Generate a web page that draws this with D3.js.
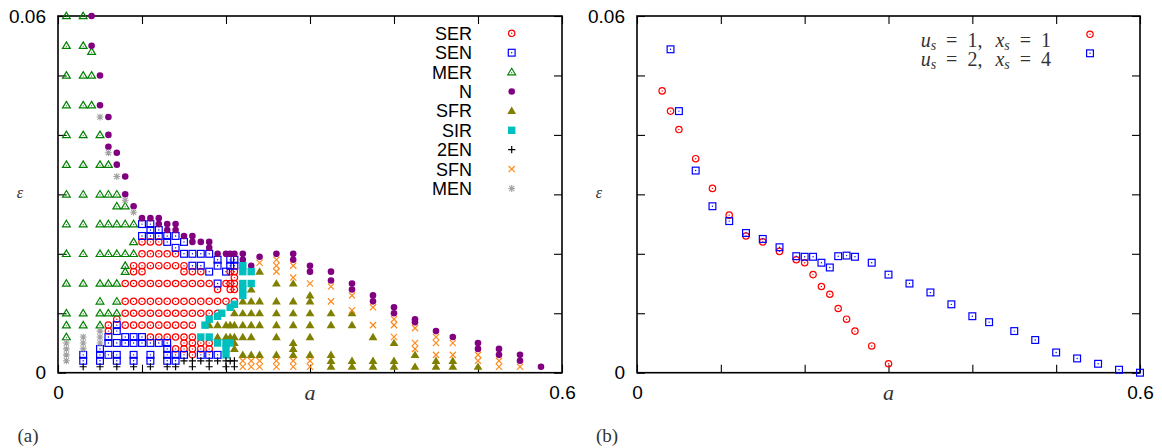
<!DOCTYPE html>
<html>
<head>
<meta charset="utf-8">
<script src="https://cdn.jsdelivr.net/npm/d3@7"></script>
<style>
  body { margin: 0; background: #fff; }
  svg { display: block; }
</style>
</head>
<body>
<svg id="chart" width="1162" height="448"></svg>
<script>
// panel (a): phase points, by column [a, [eps...]]
var seriesNames = ["SER", "SEN", "MER", "N", "SFR", "SIR", "2EN", "SFN", "MEN"];

var serCols = [
  [0.06, [0.008, 0.007]],
  [0.07, [0.009]],
  [0.08, [0.015, 0.012, 0.01, 0.008]],
  [0.09, [0.018, 0.017, 0.015, 0.012, 0.01, 0.008]],
  [0.10, [0.022, 0.02, 0.018, 0.017, 0.015, 0.012, 0.01, 0.008]],
  [0.11, [0.022, 0.02, 0.018, 0.015, 0.012, 0.01, 0.008, 0.006]],
  [0.12, [0.022, 0.02, 0.018, 0.015, 0.012, 0.01, 0.008, 0.006]],
  [0.13, [0.02, 0.018, 0.015, 0.012, 0.01, 0.008, 0.006]],
  [0.14, [0.02, 0.018, 0.015, 0.012, 0.01, 0.008, 0.006, 0.004]],
  [0.15, [0.018, 0.017, 0.015, 0.012, 0.01, 0.008, 0.006, 0.005, 0.004]],
  [0.16, [0.017, 0.015, 0.012, 0.01, 0.008, 0.006, 0.005, 0.004, 0.003]],
  [0.17, [0.017, 0.015, 0.012, 0.01, 0.005, 0.004]],
  [0.18, [0.015, 0.012, 0.01, 0.005, 0.004]],
  [0.19, [0.014, 0.012, 0.01]],
  [0.20, [0.015, 0.012]],
  [0.205, [0.017, 0.015, 0.014]],
  [0.21, [0.017, 0.016, 0.015, 0.014, 0.012]]
];

var senCols = [
  [0.03, [0.003, 0.002]],
  [0.05, [0.004, 0.003, 0.002]],
  [0.06, [0.006, 0.005, 0.003]],
  [0.07, [0.008, 0.007, 0.005, 0.003, 0.002]],
  [0.08, [0.006, 0.005]],
  [0.09, [0.006, 0.005, 0.003, 0.002]],
  [0.10, [0.025, 0.023, 0.006, 0.005]],
  [0.11, [0.025, 0.024, 0.023, 0.005, 0.003, 0.002]],
  [0.12, [0.024, 0.023, 0.005]],
  [0.13, [0.023, 0.022, 0.005, 0.004, 0.003, 0.002]],
  [0.14, [0.023, 0.021, 0.003, 0.002]],
  [0.15, [0.022, 0.02, 0.003]],
  [0.16, [0.02, 0.018]],
  [0.17, [0.02, 0.018, 0.003]],
  [0.18, [0.02, 0.017, 0.003]],
  [0.19, [0.019, 0.018, 0.015, 0.003]],
  [0.20, [0.017]],
  [0.205, [0.019, 0.018]],
  [0.21, [0.019, 0.018]]
];

var merCols = [
  [0.01, [0.06, 0.055, 0.05, 0.045, 0.04, 0.035, 0.03, 0.025, 0.02, 0.015, 0.01, 0.008, 0.006]],
  [0.03, [0.06, 0.055, 0.05, 0.045, 0.04, 0.035, 0.03, 0.025, 0.02, 0.015, 0.01, 0.008]],
  [0.04, [0.054, 0.05, 0.045]],
  [0.05, [0.04, 0.035, 0.03, 0.025, 0.02, 0.015, 0.012, 0.01, 0.008]],
  [0.06, [0.035, 0.03, 0.025, 0.02, 0.015, 0.01]],
  [0.07, [0.03, 0.028, 0.025, 0.02, 0.015, 0.012, 0.01]],
  [0.08, [0.028, 0.025, 0.02, 0.018, 0.017]],
  [0.09, [0.025, 0.022, 0.02]]
];

var nCols = [
  [0.04, [0.06, 0.055]],
  [0.05, [0.05, 0.045]],
  [0.06, [0.043, 0.04, 0.038]],
  [0.07, [0.037, 0.035]],
  [0.08, [0.033, 0.03]],
  [0.09, [0.028]],
  [0.10, [0.026]],
  [0.11, [0.026]],
  [0.12, [0.026, 0.025]],
  [0.13, [0.025, 0.024]],
  [0.14, [0.025, 0.024]],
  [0.15, [0.023]],
  [0.16, [0.023, 0.022]],
  [0.17, [0.022]],
  [0.18, [0.022, 0.021]],
  [0.19, [0.02]],
  [0.20, [0.02]],
  [0.205, [0.02]],
  [0.21, [0.02]],
  [0.22, [0.02, 0.019]],
  [0.23, [0.018]],
  [0.24, [0.0195]],
  [0.26, [0.02]],
  [0.28, [0.02, 0.019]],
  [0.30, [0.018, 0.017]],
  [0.325, [0.017, 0.0155]],
  [0.35, [0.015, 0.014]],
  [0.375, [0.013, 0.012]],
  [0.40, [0.011, 0.01]],
  [0.425, [0.009, 0.0085]],
  [0.45, [0.007]],
  [0.47, [0.006]],
  [0.50, [0.005, 0.004]],
  [0.525, [0.004, 0.003]],
  [0.55, [0.003, 0.002]],
  [0.575, [0.001]]
];

var sfrCols = [
  [0.18, [0.008]],
  [0.19, [0.008, 0.006]],
  [0.20, [0.008, 0.006]],
  [0.205, [0.008, 0.006]],
  [0.21, [0.01, 0.008, 0.006, 0.005, 0.004]],
  [0.22, [0.012, 0.01, 0.008, 0.006, 0.003]],
  [0.23, [0.014, 0.012, 0.01, 0.008, 0.006, 0.003]],
  [0.24, [0.017, 0.012, 0.01, 0.008, 0.003]],
  [0.26, [0.015, 0.012, 0.01, 0.008, 0.006, 0.003]],
  [0.28, [0.015, 0.012, 0.01, 0.008, 0.005, 0.004, 0.003]],
  [0.30, [0.013, 0.012, 0.01, 0.008, 0.006, 0.003]],
  [0.325, [0.01, 0.008, 0.003, 0.002, 0.001]],
  [0.35, [0.01, 0.008, 0.002, 0.001]],
  [0.375, [0.006, 0.002, 0.001]],
  [0.40, [0.005, 0.002, 0.001]],
  [0.425, [0.003, 0.001]],
  [0.45, [0.002, 0.001]],
  [0.47, [0.002, 0.001]],
  [0.50, [0.001]]
];

var sirCols = [
  [0.17, [0.006]],
  [0.175, [0.008]],
  [0.18, [0.009, 0.006]],
  [0.19, [0.0095, 0.005]],
  [0.195, [0.01]],
  [0.20, [0.005, 0.004, 0.003]],
  [0.205, [0.011, 0.005]],
  [0.21, [0.0115]],
  [0.22, [0.018, 0.017, 0.015, 0.014, 0.013]],
  [0.23, [0.017, 0.015]]
];

var en2Rows = [
  [0.001, [0.03, 0.05, 0.07, 0.09, 0.11, 0.13, 0.14, 0.16, 0.18, 0.20, 0.21]],
  [0.002, [0.15, 0.16, 0.17, 0.18, 0.19, 0.20, 0.205, 0.21]]
];

var sfnCols = [
  [0.22, [0.002, 0.001]],
  [0.23, [0.002, 0.001]],
  [0.24, [0.0185, 0.002, 0.001]],
  [0.26, [0.019, 0.018, 0.017, 0.002, 0.001]],
  [0.28, [0.018, 0.016, 0.002, 0.001]],
  [0.30, [0.015, 0.002, 0.001]],
  [0.325, [0.0145, 0.012]],
  [0.35, [0.013, 0.0105]],
  [0.375, [0.011, 0.008]],
  [0.40, [0.009, 0.008, 0.006]],
  [0.425, [0.0075, 0.005, 0.004]],
  [0.45, [0.006, 0.005, 0.003]],
  [0.47, [0.005, 0.003]],
  [0.50, [0.003, 0.002]],
  [0.525, [0.002, 0.001]],
  [0.55, [0.001]]
];

var menPts = [
  [0.05, 0.043], [0.06, 0.037], [0.07, 0.033], [0.08, 0.029], [0.09, 0.027],
  [0.01, 0.005], [0.01, 0.004], [0.01, 0.003], [0.01, 0.002],
  [0.03, 0.006], [0.03, 0.005], [0.03, 0.004],
  [0.05, 0.007], [0.05, 0.006], [0.05, 0.005]
];

// panel (b)
var bLabels = ["us=1, xs=1", "us=2, xs=4"];
var aB1 = [0.03, 0.04, 0.05, 0.07, 0.09, 0.11, 0.13, 0.15, 0.17, 0.19, 0.20, 0.21, 0.22, 0.23, 0.24, 0.25, 0.26, 0.28, 0.30];
var epsB1 = [0.0474, 0.044, 0.0409, 0.036, 0.031, 0.0265, 0.023, 0.022, 0.0204, 0.019, 0.0185, 0.0165, 0.0145, 0.0132, 0.0108, 0.009, 0.007, 0.0045, 0.0015];
var aB2 = [0.04, 0.05, 0.07, 0.09, 0.11, 0.13, 0.15, 0.17, 0.19, 0.20, 0.21, 0.22, 0.23, 0.24, 0.25, 0.26, 0.28, 0.30, 0.325, 0.35, 0.375, 0.40, 0.42, 0.45, 0.475, 0.50, 0.525, 0.55, 0.575, 0.60];
var epsB2 = [0.0544, 0.044, 0.034, 0.028, 0.0255, 0.0235, 0.0225, 0.0211, 0.0196, 0.0195, 0.0195, 0.0185, 0.0177, 0.0196, 0.0197, 0.0195, 0.0185, 0.0165, 0.015, 0.0135, 0.0115, 0.0095, 0.0085, 0.007, 0.0055, 0.0034, 0.0024, 0.0015, 0.0005, 0];

var xTicks = [0, 0.1, 0.2, 0.3, 0.4, 0.5, 0.6];
var yTicks = [0, 0.01, 0.02, 0.03, 0.04, 0.05, 0.06];

// ---- styles ----
var styles = {
  "SER": {color: "#ff0000", kind: "ocircle"},
  "SEN": {color: "#0000ff", kind: "osquare"},
  "MER": {color: "#008000", kind: "otri"},
  "N":   {color: "#800080", kind: "fcircle"},
  "SFR": {color: "#808000", kind: "ftri"},
  "SIR": {color: "#00bfbf", kind: "fsquare"},
  "2EN": {color: "#000000", kind: "plus"},
  "SFN": {color: "#ff8a1c", kind: "cross"},
  "MEN": {color: "#a0a0a0", kind: "star"}
};

function flat(cols) {
  return cols.flatMap(function(c) { return c[1].map(function(e) { return [c[0], e]; }); });
}
function flatRows(rows) {
  return rows.flatMap(function(r) { return r[1].map(function(a) { return [a, r[0]]; }); });
}

var pointsA = {
  "SER": flat(serCols), "SEN": flat(senCols), "MER": flat(merCols), "N": flat(nCols),
  "SFR": flat(sfrCols), "SIR": flat(sirCols), "2EN": flatRows(en2Rows),
  "SFN": flat(sfnCols), "MEN": menPts
};

function drawMarker(g, st) {
  var c = st.color;
  switch (st.kind) {
    case "ocircle":
      g.append("circle").attr("r", 3.2).attr("fill", "none").attr("stroke", c).attr("stroke-width", 1.2);
      g.append("circle").attr("r", 0.7).attr("fill", c);
      break;
    case "osquare":
      g.append("rect").attr("x", -3.4).attr("y", -3.4).attr("width", 6.8).attr("height", 6.8)
        .attr("fill", "none").attr("stroke", c).attr("stroke-width", 1.2);
      g.append("circle").attr("r", 0.7).attr("fill", c);
      break;
    case "otri":
      g.append("path").attr("d", "M0,-3.8L3.9,2.7L-3.9,2.7Z")
        .attr("fill", "none").attr("stroke", c).attr("stroke-width", 1.2);
      g.append("circle").attr("r", 0.6).attr("cy", 0.6).attr("fill", c);
      break;
    case "fcircle":
      g.append("circle").attr("r", 3.3).attr("fill", c);
      break;
    case "ftri":
      g.append("path").attr("d", "M0,-4.3L4.4,3.1L-4.4,3.1Z").attr("fill", c);
      break;
    case "fsquare":
      g.append("rect").attr("x", -3.7).attr("y", -3.7).attr("width", 7.4).attr("height", 7.4).attr("fill", c);
      break;
    case "plus":
      g.append("path").attr("d", "M-3.6,0H3.6M0,-3.6V3.6").attr("stroke", c).attr("stroke-width", 1.2);
      break;
    case "cross":
      g.append("path").attr("d", "M-3.1,-3.1L3.1,3.1M-3.1,3.1L3.1,-3.1").attr("stroke", c).attr("stroke-width", 1.2);
      break;
    case "star":
      g.append("path").attr("d", "M-3.4,0H3.4M0,-3.4V3.4M-2.6,-2.6L2.6,2.6M-2.6,2.6L2.6,-2.6")
        .attr("stroke", c).attr("stroke-width", 1.1);
      break;
  }
}

var svg = d3.select("#chart");
svg.append("rect").attr("width", 1162).attr("height", 448).attr("fill", "#fff");

var yS = d3.scaleLinear().domain([0, 0.06]).range([372.7, 16]);
var xA = d3.scaleLinear().domain([0, 0.6]).range([58, 562]);
var xB = d3.scaleLinear().domain([0, 0.6]).range([637, 1140]);

function styleAxis(g) {
  g.select(".domain").remove();
  g.attr("font-size", 19).attr("font-family", "'Liberation Sans', Arial, sans-serif");
  g.selectAll(".tick line").attr("stroke", "#000").attr("stroke-width", 1.1);
  g.selectAll(".tick text").attr("fill", "#000");
}

function drawFrame(x, y, panel) {
  var g = svg.append("g");
  g.append("g").attr("transform", "translate(0," + y(0) + ")")
    .call(d3.axisBottom(x).tickValues(xTicks).tickSizeInner(-8).tickSizeOuter(0).tickPadding(13)
      .tickFormat(function(d) { return d === 0 ? "0" : (d === 0.6 ? "0.6" : ""); }))
    .call(styleAxis);
  g.append("g").attr("transform", "translate(0," + y(0.06) + ")")
    .call(d3.axisTop(x).tickValues(xTicks).tickSizeInner(-8).tickSizeOuter(0).tickFormat(""))
    .call(styleAxis);
  g.append("g").attr("transform", "translate(" + x(0) + ",0)")
    .call(d3.axisLeft(y).tickValues(yTicks).tickSizeInner(-8).tickSizeOuter(0).tickPadding(12)
      .tickFormat(function(d) { return d === 0 ? "0" : (d === 0.06 ? "0.06" : ""); }))
    .call(styleAxis);
  g.append("g").attr("transform", "translate(" + x(0.6) + ",0)")
    .call(d3.axisRight(y).tickValues(yTicks).tickSizeInner(-8).tickSizeOuter(0).tickFormat(""))
    .call(styleAxis);
  g.append("rect")
    .attr("x", x(0)).attr("y", y(0.06))
    .attr("width", x(0.6) - x(0)).attr("height", y(0) - y(0.06))
    .attr("fill", "none").attr("stroke", "#000").attr("stroke-width", 1.6);

  var serif = "'Liberation Serif', 'DejaVu Serif', serif";
  g.append("text").attr("x", x(0.3)).attr("y", 400).attr("text-anchor", "middle")
    .attr("font-family", serif).attr("font-style", "italic").attr("font-size", 22)
    .attr("fill", "#333").text("a");
  g.append("text").attr("x", x(0) - 38).attr("y", 198).attr("text-anchor", "middle")
    .attr("font-family", serif).attr("font-style", "italic").attr("font-size", 16)
    .attr("fill", "#333").text("ε");
  g.append("text").attr("x", x(0) - 30).attr("y", 442).attr("text-anchor", "middle")
    .attr("font-family", serif).attr("font-size", 19)
    .attr("fill", "#333").text(panel);
}

drawFrame(xA, yS, "(a)");
drawFrame(xB, yS, "(b)");

// panel (a) points
seriesNames.forEach(function(name) {
  svg.append("g").attr("class", "s-" + name)
    .selectAll("g").data(pointsA[name]).join("g")
    .attr("transform", function(d) { return "translate(" + xA(d[0]) + "," + yS(d[1]) + ")"; })
    .each(function() { drawMarker(d3.select(this), styles[name]); });
});

// panel (a) legend
var legA = svg.append("g").attr("font-family", "'Liberation Sans', Arial, sans-serif").attr("font-size", 18);
seriesNames.forEach(function(name, i) {
  var cy = 33.3 + i * 19.4;
  legA.append("text").attr("x", 472).attr("y", cy + 6.5).attr("text-anchor", "end")
    .attr("fill", "#000").text(name);
  var m = legA.append("g").attr("transform", "translate(511.7," + cy + ")");
  drawMarker(m, styles[name]);
});

// panel (b) points
var bSeries = [
  {pts: d3.zip(aB1, epsB1), st: styles["SER"]},
  {pts: d3.zip(aB2, epsB2), st: styles["SEN"]}
];
bSeries.forEach(function(s) {
  svg.append("g").selectAll("g").data(s.pts).join("g")
    .attr("transform", function(d) { return "translate(" + xB(d[0]) + "," + yS(d[1]) + ")"; })
    .each(function() { drawMarker(d3.select(this), s.st); });
});

// panel (b) legend, math-style labels
var legB = svg.append("g").attr("font-family", "'Liberation Serif', 'DejaVu Serif', serif")
  .attr("font-size", 20).attr("fill", "#333");
bLabels.forEach(function(lbl, i) {
  var u = lbl.split(", ")[0].split("=")[1];
  var xs = lbl.split(", ")[1].split("=")[1];
  var t = legB.append("text").attr("x", 1051).attr("y", 47 + i * 19).attr("text-anchor", "end");
  t.append("tspan").attr("font-style", "italic").text("u");
  t.append("tspan").attr("font-style", "italic").attr("font-size", 14).attr("dy", 3).text("s");
  t.append("tspan").attr("dy", -3).attr("dx", 10).text("=");
  t.append("tspan").attr("dx", 10).text(u + ",");
  t.append("tspan").attr("dx", 13).attr("font-style", "italic").text("x");
  t.append("tspan").attr("font-style", "italic").attr("font-size", 14).attr("dy", 3).text("s");
  t.append("tspan").attr("dy", -3).attr("dx", 10).text("=");
  t.append("tspan").attr("dx", 10).text(xs);
  var m = legB.append("g").attr("transform", "translate(1090," + (34.3 + i * 19) + ")");
  drawMarker(m, bSeries[i].st);
});
</script>
</body>
</html>
